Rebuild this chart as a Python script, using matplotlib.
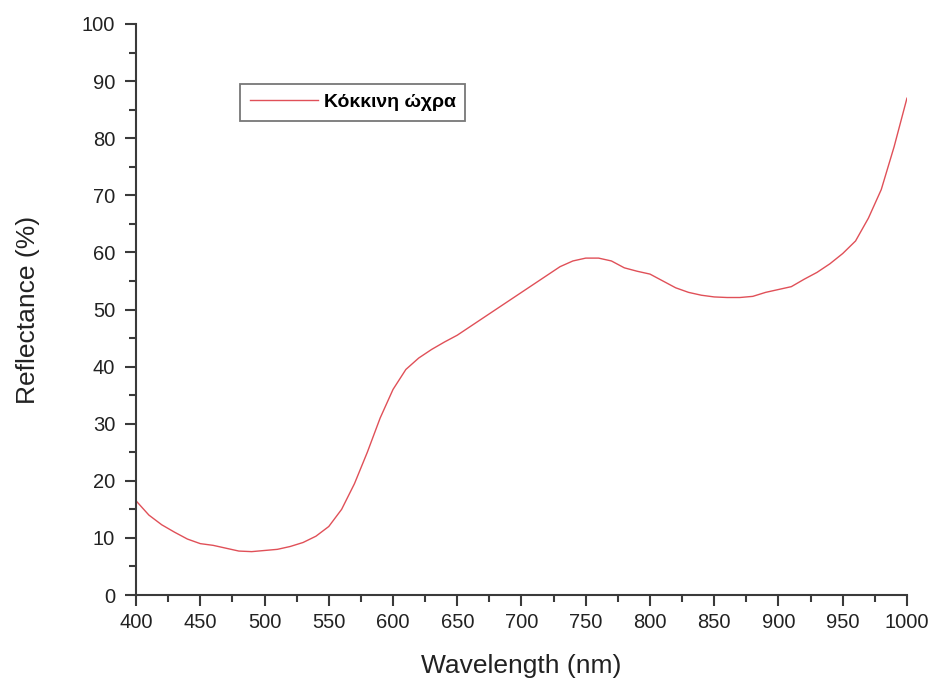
import numpy as np
import matplotlib.pyplot as plt
from matplotlib.ticker import MultipleLocator

plt.rcParams['font.family'] = ['Liberation Sans', 'DejaVu Sans']

wavelength = [400, 410, 420, 430, 440, 450, 460, 470, 480, 490,
              500, 510, 520, 530, 540, 550, 560, 570, 580, 590,
              600, 610, 620, 630, 640, 650, 660, 670, 680, 690,
              700, 710, 720, 730, 740, 750, 760, 770, 780, 790,
              800, 810, 820, 830, 840, 850, 860, 870, 880, 890,
              900, 910, 920, 930, 940, 950, 960, 970, 980, 990, 1000]
reflectance = [16.5, 14.0, 12.3, 11.0, 9.8, 9.0, 8.7, 8.2, 7.7, 7.6,
               7.8, 8.0, 8.5, 9.2, 10.3, 12.0, 15.0, 19.5, 25.0, 31.0,
               36.0, 39.5, 41.5, 43.0, 44.3, 45.5, 47.0, 48.5, 50.0, 51.5,
               53.0, 54.5, 56.0, 57.5, 58.5, 59.0, 59.0, 58.5, 57.3, 56.7,
               56.2, 55.0, 53.8, 53.0, 52.5, 52.2, 52.1, 52.1, 52.3, 53.0,
               53.5, 54.0, 55.3, 56.5, 58.0, 59.8, 62.0, 66.0, 71.0, 78.5, 87.0]

fig = plt.figure(figsize=(9.35, 6.83), dpi=100)
ax = fig.add_axes([0.1455, 0.1288, 0.8245, 0.8361])

ax.plot(wavelength, reflectance, color='#e05058', lw=1.0, label='Κόκκινη ώχρα')

ax.set_xlim(400, 1000)
ax.set_ylim(0, 100)
ax.xaxis.set_major_locator(MultipleLocator(50))
ax.xaxis.set_minor_locator(MultipleLocator(25))
ax.yaxis.set_major_locator(MultipleLocator(10))
ax.yaxis.set_minor_locator(MultipleLocator(5))

for s in ['top', 'right']:
    ax.spines[s].set_visible(False)
for s in ['left', 'bottom']:
    ax.spines[s].set_color('#3a3a3a')
    ax.spines[s].set_linewidth(1.5)

ax.tick_params(which='major', direction='out', length=8, width=1.5, colors='#3a3a3a',
               labelsize=14.5, labelcolor='#222222', pad=5)
ax.tick_params(which='minor', direction='out', length=5, width=1.5, colors='#3a3a3a')
ax.tick_params(axis='y', which='major', pad=7)

ax.set_xlabel('Wavelength (nm)', fontsize=19, color='#222222', labelpad=16)
ax.set_ylabel('Reflectance (%)', fontsize=19, color='#222222', labelpad=30)

leg = ax.legend(loc='upper left', bbox_to_anchor=(0.135, 0.895),
                prop={'weight': 'bold', 'size': 14}, frameon=True, fancybox=False,
                handlelength=3.5, handletextpad=0.3, borderpad=0.5, borderaxespad=0,
                edgecolor='#555555')
leg.get_frame().set_linewidth(1.3)

fig.savefig('out.png', dpi=100)
